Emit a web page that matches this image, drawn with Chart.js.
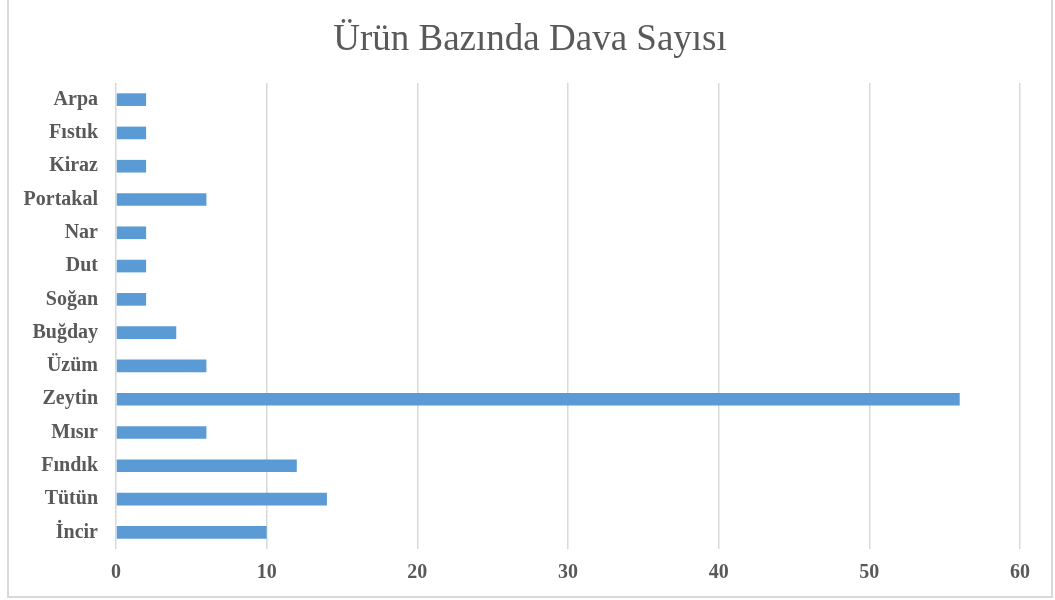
<!DOCTYPE html>
<html lang="tr">
<head>
<meta charset="utf-8">
<title>Ürün Bazında Dava Sayısı</title>
<script src="https://cdn.jsdelivr.net/npm/chart.js@4.4.1/dist/chart.umd.min.js"></script>
<style>
  html, body { margin: 0; padding: 0; background: #fff; }
  #wrap { position: relative; width: 1055px; height: 600px; overflow: hidden; }
  #frame {
    position: absolute; left: 7px; top: -4px; width: 1046px; height: 602px;
    border: 2px solid #d9d9d9; box-sizing: border-box;
  }
  #chart { position: absolute; left: 0; top: 0; }
</style>
</head>
<body>
<div id="wrap">
  <div id="frame"></div>
  <canvas id="chart" width="1055" height="600"></canvas>
</div>
<script>
// Data, top to bottom as shown on the chart
const products = ["Arpa", "Fıstık", "Kiraz", "Portakal", "Nar", "Dut", "Soğan",
  "Buğday", "Üzüm", "Zeytin", "Mısır", "Fındık", "Tütün", "İncir"];
const caseCounts = [2, 2, 2, 6, 2, 2, 2, 4, 6, 56, 6, 12, 14, 10];
const xTicks = [0, 10, 20, 30, 40, 50, 60];

const serif = '"Liberation Serif", "Times New Roman", serif';
const textGray = "#595959";
const gridGray = "#d9d9d9";
const barBlue = "#5b9bd5";

// The title sits centred on the whole frame, not only on the plot part.
const centreTitle = {
  id: "centreTitle",
  afterLayout(chart) {
    if (chart.titleBlock) {
      chart.titleBlock.left = 5;
      chart.titleBlock.right = chart.width;
    }
  },
};

new Chart(document.getElementById("chart"), {
  type: "bar",
  data: {
    labels: products,
    datasets: [
      {
        label: "Dava Sayısı",
        data: caseCounts,
        backgroundColor: barBlue,
        borderWidth: 0,
        barPercentage: 1,
        categoryPercentage: 0.38,
      },
    ],
  },
  plugins: [centreTitle],
  options: {
    indexAxis: "y",
    responsive: false,
    animation: false,
    layout: { padding: { top: 14, right: 35, bottom: 0, left: 0 } },
    plugins: {
      legend: { display: false },
      tooltip: { enabled: false },
      title: {
        display: true,
        text: "Ürün Bazında Dava Sayısı",
        color: textGray,
        font: { family: serif, size: 37, weight: "normal" },
        padding: { top: 4, bottom: 20.6 },
      },
    },
    scales: {
      x: {
        min: xTicks[0],
        max: xTicks[xTicks.length - 1],
        afterBuildTicks: (scale) => {
          scale.ticks = xTicks.map((v) => ({ value: v }));
        },
        afterFit: (scale) => {
          scale.height = 51;
        },
        grid: { color: gridGray, lineWidth: 1.5, drawTicks: false },
        border: { display: false },
        ticks: {
          color: textGray,
          padding: 12,
          font: { family: serif, size: 20, weight: "bold" },
        },
      },
      y: {
        afterFit: (scale) => {
          scale.width = 116;
        },
        grid: { display: false, drawTicks: false },
        border: { display: false },
        ticks: {
          color: textGray,
          padding: 18,
          font: { family: serif, size: 20, weight: "bold" },
        },
      },
    },
  },
});
</script>
</body>
</html>
